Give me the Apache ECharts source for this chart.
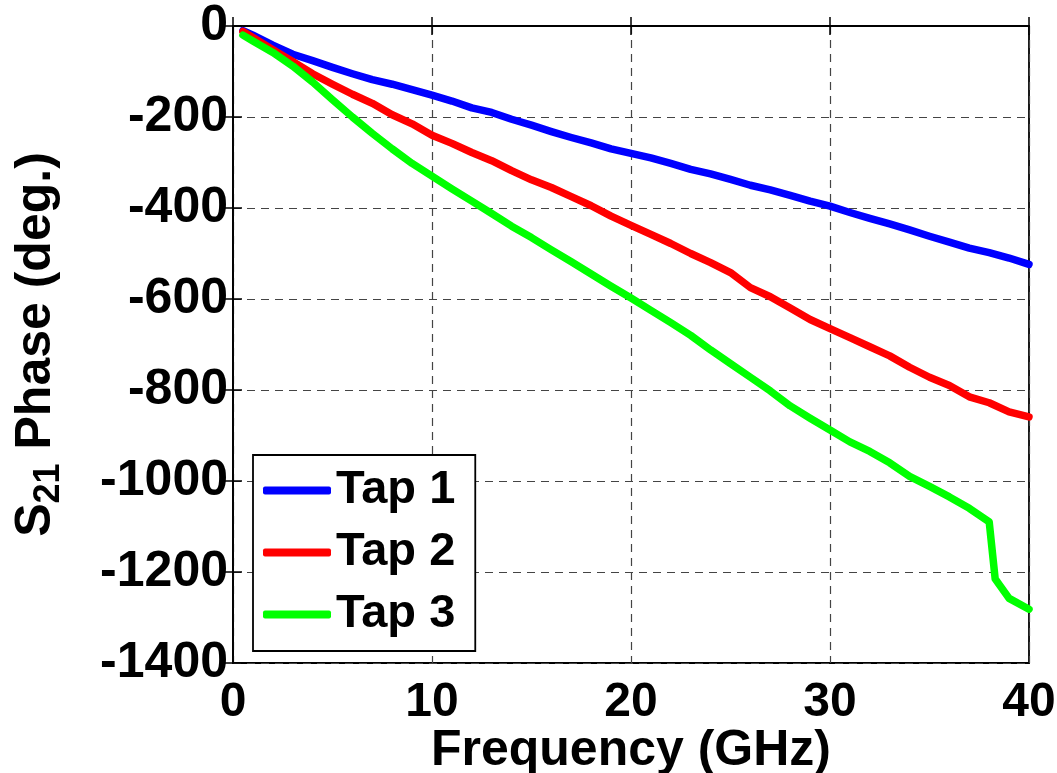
<!DOCTYPE html>
<html>
<head>
<meta charset="utf-8">
<script src="https://cdn.jsdelivr.net/npm/echarts@6/dist/echarts.min.js"></script>
<style>
  html, body { margin: 0; padding: 0; background: #fff; }
  #chart { width: 1057px; height: 773px; }
</style>
</head>
<body>
<div id="chart"></div>
<script>
// frequency points (GHz) shared by Tap 1 and Tap 2
const freqGHz = [0.5, 1, 2, 3, 4, 5, 6, 7, 8, 9, 10, 11, 12, 13, 14, 15, 16, 17, 18, 19, 20,
  21, 22, 23, 24, 25, 26, 27, 28, 29, 30, 31, 32, 33, 34, 35, 36, 37, 38, 39, 40];
const tap1Phase = [-10, -20, -42, -62, -76, -91, -105, -118, -128, -140, -152, -165, -180, -190, -205, -218, -232, -245, -257, -270, -280,
  -290, -302, -315, -325, -337, -350, -360, -372, -385, -396, -410, -423, -435, -448, -462, -475, -488, -498, -510, -524];
const tap2Phase = [-12, -25, -52, -78, -105, -128, -150, -170, -195, -215, -240, -258, -278, -296, -318, -338, -355, -375, -395, -418, -438,
  -458, -478, -500, -520, -542, -575, -595, -620, -645, -665, -685, -705, -725, -750, -772, -790, -815, -828, -848, -859];
// Tap 3 has an extra point at the sudden drop near 38 GHz
const tap3Freq = [0.5, 1, 2, 3, 4, 5, 6, 7, 8, 9, 10, 11, 12, 13, 14, 15, 16, 17, 18, 19, 20,
  21, 22, 23, 24, 25, 26, 27, 28, 29, 30, 31, 32, 33, 34, 35, 36, 37, 38, 38.3, 39, 40];
const tap3Phase = [-20, -33, -58, -88, -123, -162, -200, -236, -270, -302, -330, -358, -385, -412, -440, -465, -492, -518, -545, -572, -598,
  -625, -652, -680, -712, -742, -772, -802, -835, -862, -888, -914, -935, -960, -990, -1012, -1035, -1060, -1090, -1215, -1258, -1282];

const seriesNames = ['Tap 1', 'Tap 2', 'Tap 3'];
const seriesColors = ['#0000ff', '#ff0000', '#00ff00'];

const pairs = (xs, ys) => xs.map((x, i) => [x, ys[i]]);

const FONT = '"Liberation Sans", Arial, Helvetica, sans-serif';
const gridDash = { color: '#444', type: [8, 6], width: 1.2 };

const chart = echarts.init(document.getElementById('chart'), null, { renderer: 'canvas' });

const lineSeries = (name, color, data) => ({
  name,
  type: 'line',
  data,
  showSymbol: false,
  symbol: 'none',
  lineStyle: { color, width: 7.5, cap: 'round', join: 'round' },
  itemStyle: { color },
});

const option = {
  backgroundColor: '#ffffff',
  animation: false,
  grid: {
    left: 233,
    top: 26,
    right: 28,
    bottom: 110,
    containLabel: false,
    outerBoundsMode: 'none',
    show: true,
    borderColor: '#000',
    borderWidth: 1.8,
    backgroundColor: 'transparent',
  },
  legend: {
    data: seriesNames,
    orient: 'vertical',
    left: 253,
    top: 455,
    icon: 'roundRect',
    itemWidth: 68,
    itemHeight: 8,
    itemGap: 15,
    padding: [12, 20, 13, 10],
    backgroundColor: '#fff',
    borderColor: '#000',
    borderWidth: 1.8,
    textStyle: {
      fontFamily: FONT,
      fontWeight: 'bold',
      fontSize: 47,
      color: '#000',
    },
  },
  xAxis: [
    {
      type: 'value',
      min: 0,
      max: 40,
      interval: 10,
      name: 'Frequency (GHz)',
      nameLocation: 'middle',
      nameGap: 63,
      nameMoveOverlap: false,
      nameTextStyle: {
        fontFamily: FONT,
        fontWeight: 'bold',
        fontSize: 50,
        color: '#000',
      },
      axisLine: { show: true, lineStyle: { color: '#000', width: 1.8 } },
      axisTick: { show: true, inside: true, length: 9, lineStyle: { color: '#000', width: 1.5 } },
      axisLabel: {
        fontFamily: FONT,
        fontWeight: 'bold',
        fontSize: 48,
        color: '#000',
        margin: 16,
        formatter: (v) => String(v),
      },
      splitLine: { show: true, lineStyle: gridDash },
    },
    {
      type: 'value',
      position: 'top',
      min: 0,
      max: 40,
      interval: 10,
      axisLine: { show: false },
      axisTick: { show: true, inside: true, length: 9, lineStyle: { color: '#000', width: 1.5 } },
      axisLabel: { show: false },
      splitLine: { show: false },
    },
  ],
  yAxis: [
    {
      type: 'value',
      min: -1400,
      max: 0,
      interval: 200,
      name: '{m|S}{s|21}{m| Phase (deg.)}',
      nameLocation: 'middle',
      nameGap: 166,
      nameMoveOverlap: false,
      nameRotate: 90,
      nameTextStyle: {
        rich: {
          m: { fontFamily: FONT, fontWeight: 'bold', fontSize: 50, color: '#000' },
          s: { fontFamily: FONT, fontWeight: 'bold', fontSize: 36, color: '#000', padding: [26, 0, 0, 0] },
        },
      },
      axisLine: { show: true, lineStyle: { color: '#000', width: 1.8 } },
      axisTick: { show: true, inside: true, length: 9, lineStyle: { color: '#000', width: 1.5 } },
      axisLabel: {
        fontFamily: FONT,
        fontWeight: 'bold',
        fontSize: 50,
        color: '#000',
        margin: 5,
        formatter: (v) => String(v),
      },
      splitLine: { show: true, lineStyle: gridDash },
    },
    {
      type: 'value',
      position: 'right',
      min: -1400,
      max: 0,
      interval: 200,
      axisLine: { show: false },
      axisTick: { show: true, inside: true, length: 9, lineStyle: { color: '#000', width: 1.5 } },
      axisLabel: { show: false },
      splitLine: { show: false },
    },
  ],
  series: [
    lineSeries(seriesNames[0], seriesColors[0], pairs(freqGHz, tap1Phase)),
    lineSeries(seriesNames[1], seriesColors[1], pairs(freqGHz, tap2Phase)),
    lineSeries(seriesNames[2], seriesColors[2], pairs(tap3Freq, tap3Phase)),
  ],
};

chart.setOption(option);
</script>
</body>
</html>
